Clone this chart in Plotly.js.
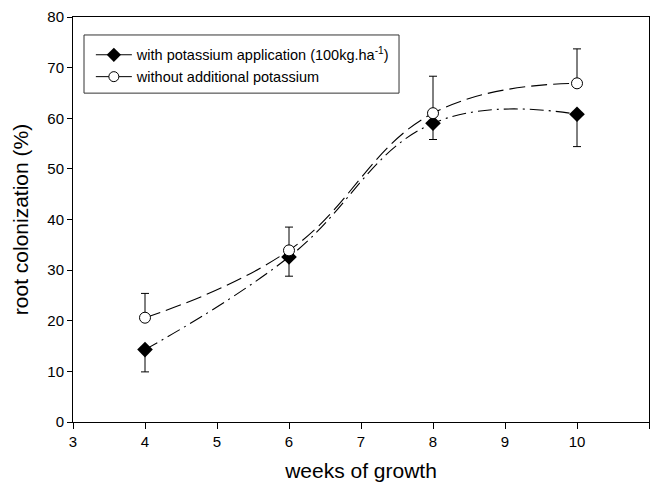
<!DOCTYPE html>
<html>
<head>
<meta charset="utf-8">
<script src="https://cdn.plot.ly/plotly-3.0.1.min.js"></script>
<style>html,body{margin:0;padding:0;background:#fff;}#chart{width:655px;height:489px;}</style>
</head>
<body>
<div id="chart"></div>
<script>
var weeks = [4, 6, 8, 10];
var withK = [14.3, 32.6, 59.0, 60.8];
var withKErr = [4.4, 3.8, 3.2, 6.4];
var withoutK = [20.6, 33.9, 61.0, 66.9];
var withoutKErr = [4.8, 4.6, 7.3, 6.8];
var zeros = [0, 0, 0, 0];
var xTicks = [3, 4, 5, 6, 7, 8, 9, 10, 11];
var yTicks = [0, 10, 20, 30, 40, 50, 60, 70, 80];
var nameWith = 'with potassium application (100kg.ha<sup>-1</sup>)';
var nameWithout = 'without additional potassium';

var traces = [
  {
    x: weeks, y: withK, type: 'scatter', mode: 'lines', showlegend: false,
    line: {color: '#000', width: 1.1, dash: '14px,5px,2px,5px', shape: 'spline', smoothing: 1.2},
    error_y: {type: 'data', symmetric: false, array: zeros, arrayminus: withKErr, color: '#000', thickness: 1, width: 4}
  },
  {
    x: weeks, y: withoutK, type: 'scatter', mode: 'lines', showlegend: false,
    line: {color: '#000', width: 1.1, dash: '16px,6px', shape: 'spline', smoothing: 1.2},
    error_y: {type: 'data', symmetric: false, array: withoutKErr, arrayminus: zeros, color: '#000', thickness: 1, width: 4}
  },
  {
    x: weeks, y: withK, type: 'scatter', mode: 'markers', showlegend: false,
    marker: {symbol: 'diamond', size: 12, color: '#000'}
  },
  {
    x: weeks, y: withoutK, type: 'scatter', mode: 'markers', showlegend: false,
    marker: {symbol: 'circle', size: 11, color: '#fff', line: {width: 1, color: '#000'}}
  },
  {
    x: [null], y: [null], type: 'scatter', mode: 'lines+markers', name: nameWith,
    line: {color: '#000', width: 1.1},
    marker: {symbol: 'diamond', size: 11, color: '#000'}
  },
  {
    x: [null], y: [null], type: 'scatter', mode: 'lines+markers', name: nameWithout,
    line: {color: '#000', width: 1},
    marker: {symbol: 'circle', size: 10, color: '#fff', line: {width: 1, color: '#000'}}
  }
];

var layout = {
  width: 655, height: 489,
  margin: {l: 73, r: 6, t: 17, b: 67},
  paper_bgcolor: '#fff', plot_bgcolor: '#fff',
  font: {family: 'Arial, "Liberation Sans", sans-serif', color: '#000', size: 15},
  showlegend: true,
  legend: {
    x: 0.031, y: 0.946, xanchor: 'left', yanchor: 'top',
    borderwidth: 0, bgcolor: 'rgba(0,0,0,0)',
    font: {size: 14.5}, tracegroupgap: 0, itemwidth: 36
  },
  shapes: [{
    type: 'rect', xref: 'paper', yref: 'paper',
    x0: 0.0191, x1: 0.566, y0: 0.812, y1: 0.9556,
    line: {color: '#333', width: 1}, fillcolor: '#fff', layer: 'below'
  }],
  xaxis: {
    range: [3, 11], tickvals: xTicks, ticktext: xTicks.map(String),
    showgrid: false, zeroline: false, showline: true, linecolor: '#000', linewidth: 1,
    mirror: true, ticks: 'outside', ticklen: 6, tickcolor: '#000',
    tickfont: {size: 15},
    title: {text: 'weeks of growth', font: {size: 21}, standoff: 14}
  },
  yaxis: {
    range: [0, 80], tickvals: yTicks, ticktext: yTicks.map(String),
    showgrid: false, zeroline: false, showline: true, linecolor: '#000', linewidth: 1,
    mirror: true, ticks: 'outside', ticklen: 5, tickcolor: '#000',
    tickfont: {size: 15},
    title: {text: 'root colonization (%)', font: {size: 21}, standoff: 12}
  }
};

Plotly.newPlot('chart', traces, layout, {displayModeBar: false, staticPlot: true});
</script>
</body>
</html>
